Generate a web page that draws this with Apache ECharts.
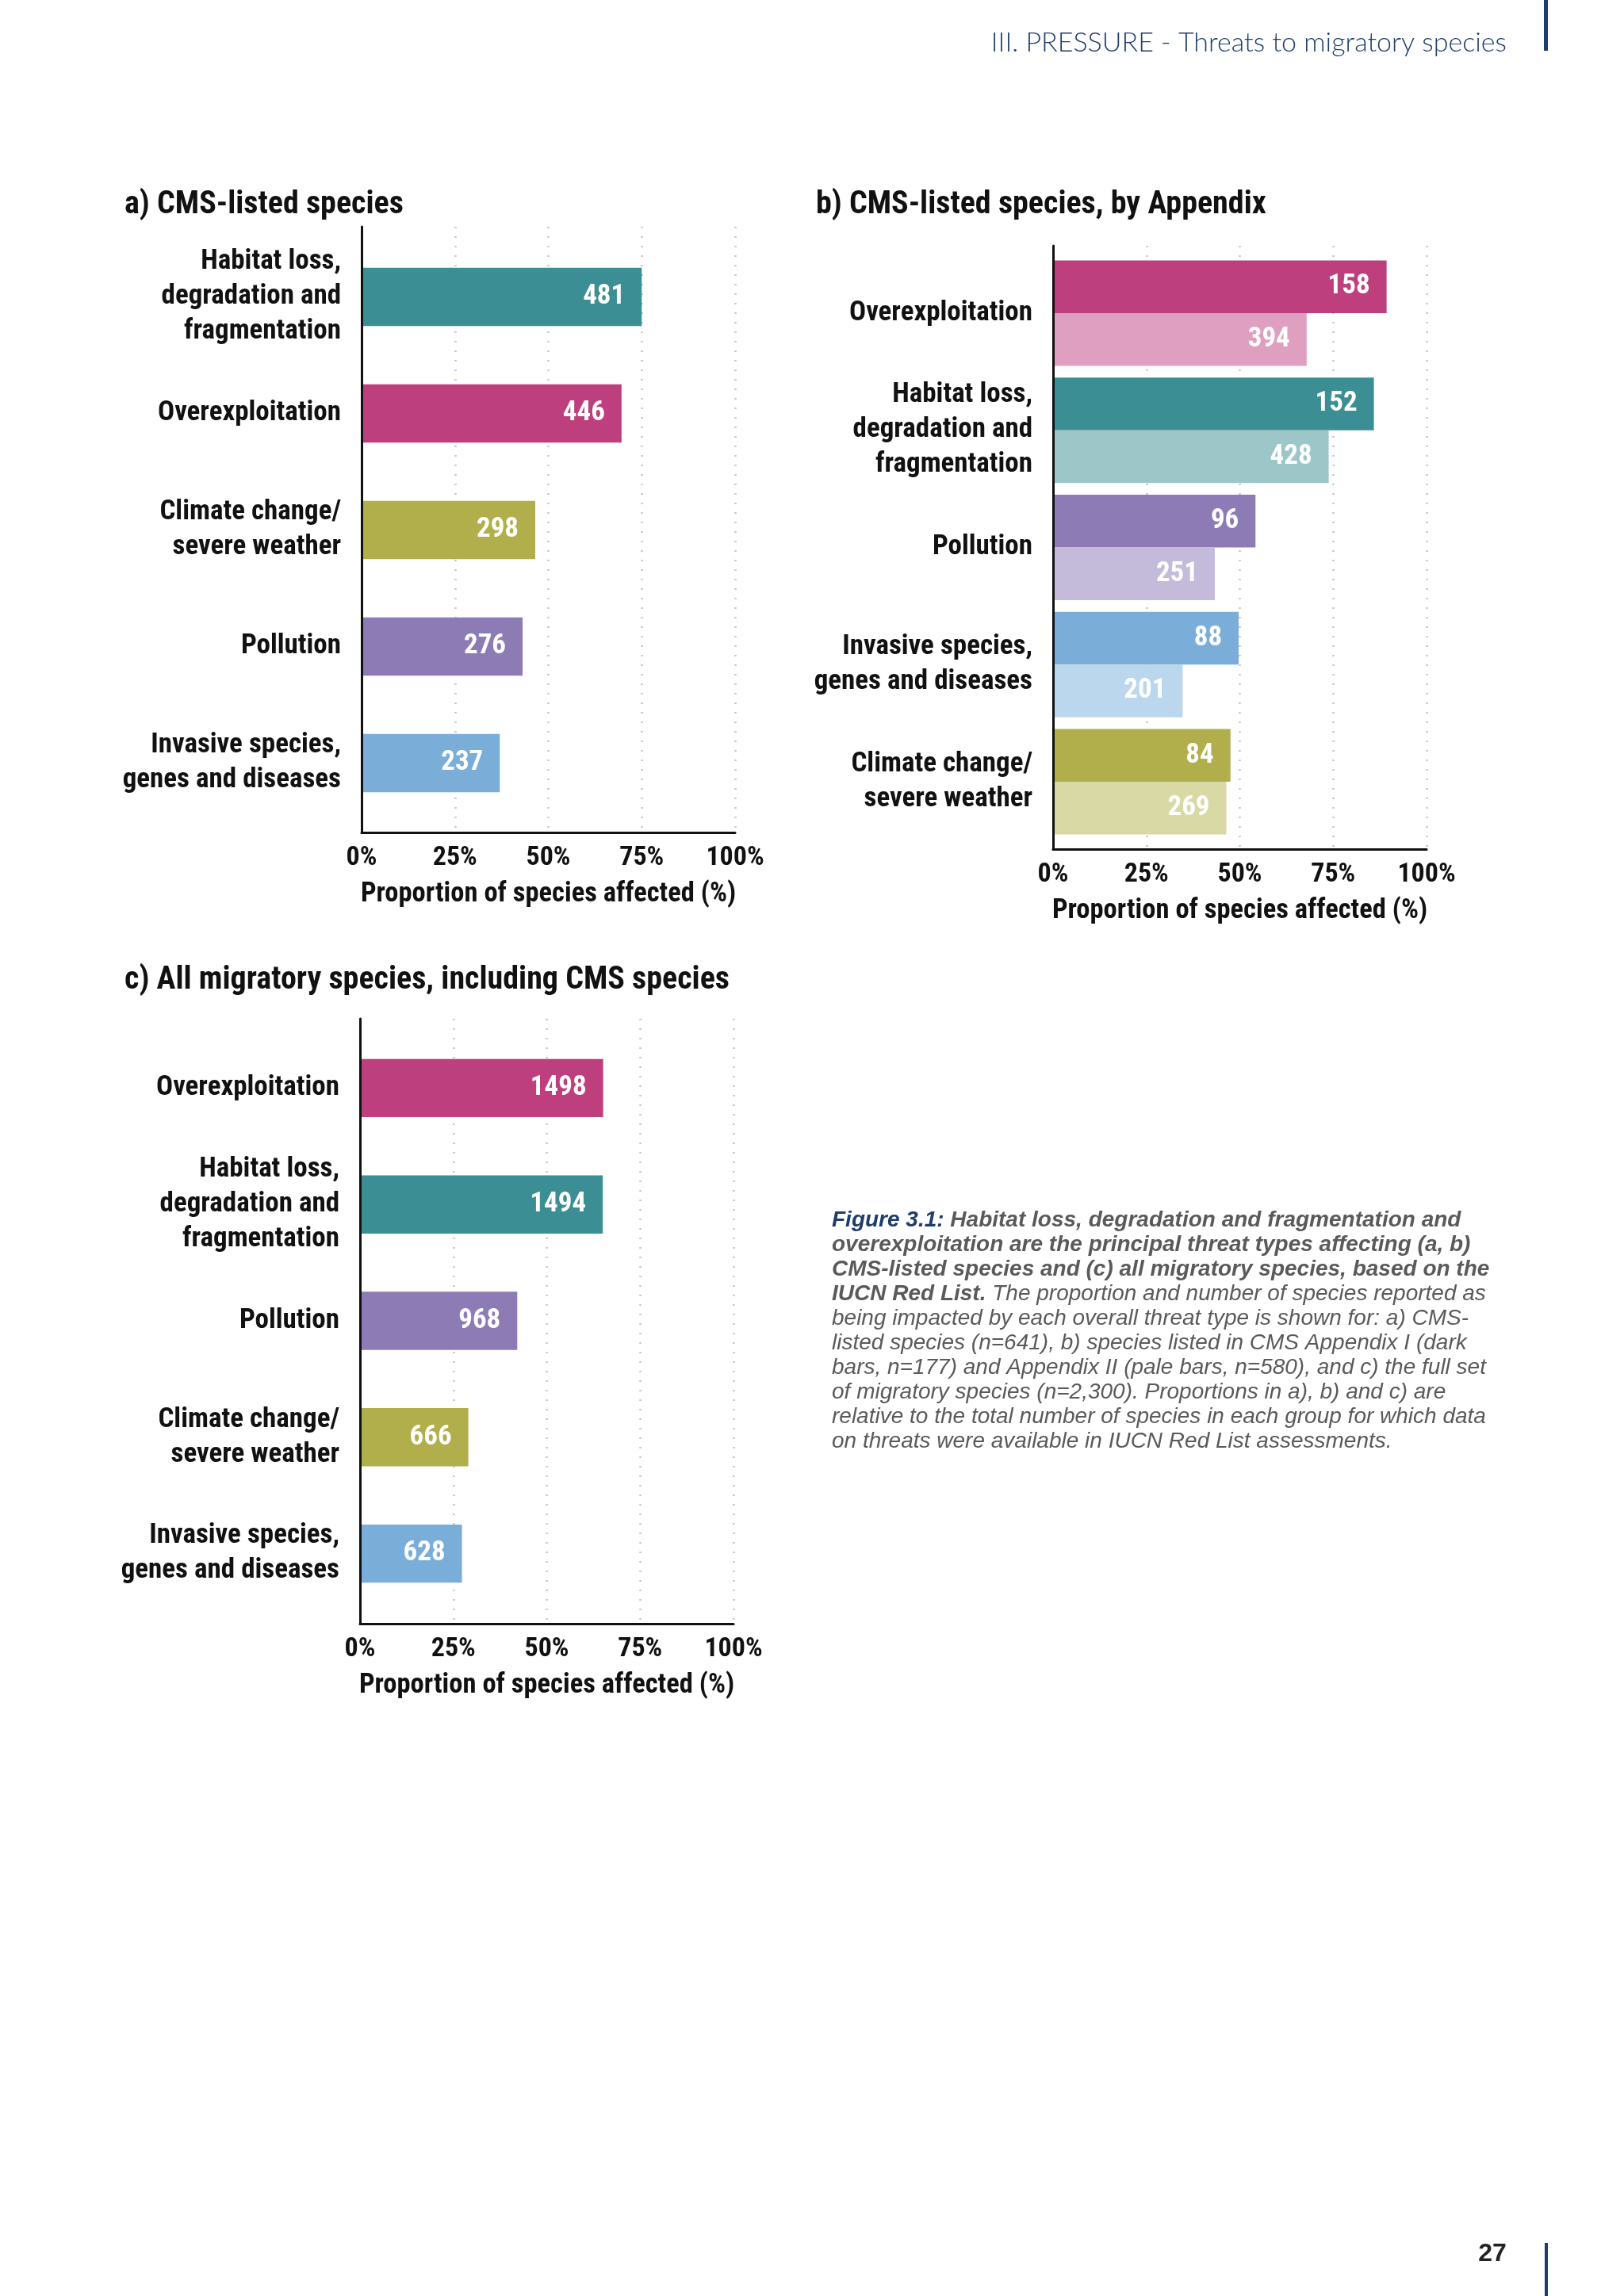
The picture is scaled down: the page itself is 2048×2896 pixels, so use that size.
<!DOCTYPE html>
<html>
<head>
<meta charset="utf-8">
<script src="https://cdn.jsdelivr.net/npm/echarts@6/dist/echarts.min.js"></script>
<style>
  html, body { margin: 0; padding: 0; background: #fff; }
  #main { width: 2048px; height: 2896px; }
</style>
</head>
<body>
<div id="main"></div>
<script>
// a) CMS-listed species
var catsA = ['Habitat loss,\ndegradation and\nfragmentation', 'Overexploitation', 'Climate change/\nsevere weather', 'Pollution', 'Invasive species,\ngenes and diseases'];
var pctA = [75.0, 69.6, 46.5, 43.1, 37.0];
var countA = [481, 446, 298, 276, 237];

// b) CMS-listed species, by Appendix (dark = Appendix I, pale = Appendix II)
var catsB = ['Overexploitation', 'Habitat loss,\ndegradation and\nfragmentation', 'Pollution', 'Invasive species,\ngenes and diseases', 'Climate change/\nsevere weather'];
var pctB1 = [89.3, 85.9, 54.2, 49.7, 47.5];
var countB1 = [158, 152, 96, 88, 84];
var pctB2 = [67.9, 73.8, 43.3, 34.7, 46.4];
var countB2 = [394, 428, 251, 201, 269];

// c) All migratory species, including CMS species
var catsC = ['Overexploitation', 'Habitat loss,\ndegradation and\nfragmentation', 'Pollution', 'Climate change/\nsevere weather', 'Invasive species,\ngenes and diseases'];
var pctC = [65.1, 65.0, 42.1, 29.0, 27.3];
var countC = [1498, 1494, 968, 666, 628];

var xTicks = [0, 25, 50, 75, 100];

var dark = { Habitat: '#3b8e93', Overexploitation: '#bd3f7e', Climate: '#b1af4b', Pollution: '#8d7bb6', Invasive: '#7aaed9' };
var pale = { Habitat: '#9cc6c7', Overexploitation: '#de9fc1', Climate: '#d9d9a5', Pollution: '#c4bbdb', Invasive: '#bbd7ed' };
function key(c) { return c.split(/[ ,\/\n]/)[0]; }

// condensed bold, like the original chart labels
var F = "'Roboto Condensed', Roboto, 'Liberation Sans', sans-serif";
var W = 'bold condensed';
var INK = '#111';

var grid = [], xAxis = [], yAxis = [], series = [];

// one panel = a frame grid (axis lines, ticks, dotted lines) + a bar grid
function panel(left, frameTop, frameBottom, barTop, barBottom, cats) {
  var g = grid.length;
  grid.push({ left: left, top: frameTop, width: 471, height: frameBottom - frameTop });
  grid.push({ left: left, top: barTop, width: 471, height: barBottom - barTop });
  xAxis.push({
    gridIndex: g, type: 'value',
    min: xTicks[0], max: xTicks[xTicks.length - 1], interval: xTicks[1] - xTicks[0],
    axisLine: { show: true, onZero: false, lineStyle: { color: INK, width: 3 } },
    axisTick: { show: false },
    axisLabel: { margin: 15, formatter: '{value}%', color: INK, fontSize: 34, fontWeight: W, fontFamily: F },
    splitLine: { show: true, lineStyle: { color: '#c6c6c6', width: 2.5, type: [2, 10] } },
    name: 'Proportion of species affected (%)', nameLocation: 'middle', nameGap: 61,
    nameTextStyle: { color: INK, fontSize: 34.5, fontWeight: W, fontFamily: F }
  });
  yAxis.push({
    gridIndex: g, type: 'value', min: 0, max: 1, z: 5,
    axisLine: { show: true, onZero: false, lineStyle: { color: INK, width: 3 } },
    axisTick: { show: false }, axisLabel: { show: false }, splitLine: { show: false }
  });
  xAxis.push({ gridIndex: g + 1, type: 'value', min: 0, max: 100, show: false });
  yAxis.push({
    gridIndex: g + 1, type: 'category', inverse: true, data: cats,
    axisLine: { show: false }, axisTick: { show: false },
    axisLabel: { interval: 0, margin: 26, color: INK, fontSize: 35, fontWeight: W, lineHeight: 44, fontFamily: F }
  });
  return g + 1;
}

function bars(idx, cats, vals, counts, colours, extra) {
  var s = {
    type: 'bar', xAxisIndex: idx, yAxisIndex: idx, silent: true,
    data: vals.map(function (v, i) { return { value: v, itemStyle: { color: colours[key(cats[i])] } }; }),
    label: {
      show: true, position: 'insideRight', distance: 21,
      formatter: function (p) { return counts[p.dataIndex]; },
      color: '#fff', fontSize: 35, fontWeight: W, fontFamily: F, textBorderWidth: 0
    }
  };
  for (var k in extra) s[k] = extra[k];
  series.push(s);
}

var ia = panel(456, 286, 1050, 301, 1036, catsA);
bars(ia, catsA, pctA, countA, dark, { barWidth: '50%' });

var ib = panel(1328, 310, 1071, 321, 1060, catsB);
bars(ib, catsB, pctB1, countB1, dark, { barGap: '0%', barCategoryGap: '10%' });
bars(ib, catsB, pctB2, countB2, pale, { barGap: '0%', barCategoryGap: '10%' });

var ic = panel(454, 1285, 2048, 1299, 2033, catsC);
bars(ic, catsC, pctC, countC, dark, { barWidth: '50%' });

function txt(x, y, text, font, fill, align) {
  return { type: 'text', silent: true, style: {
    x: x, y: y, text: text, font: font, fill: fill,
    align: align || 'left', textAlign: align || 'left', verticalAlign: 'middle', textVerticalAlign: 'middle'
  } };
}

var titleFont = W + ' 40px ' + F;
var capB = "italic bold 28px 'Liberation Sans', Arial, sans-serif";
var capR = "italic 28px 'Liberation Sans', Arial, sans-serif";
var GREY = '#5a5a5a', NAVY = '#1f3d6b';

var graphic = [
  txt(1900, 54, 'III. PRESSURE - Threats to migratory species', "300 34px Lato, 'Open Sans', sans-serif", NAVY, 'right'),
  { type: 'rect', silent: true, shape: { x: 1947, y: 0, width: 5, height: 64 }, style: { fill: NAVY } },
  { type: 'rect', silent: true, shape: { x: 1948, y: 2829, width: 4, height: 67 }, style: { fill: NAVY } },
  txt(1882, 2843, '27', "bold 32px 'Liberation Sans', Arial, sans-serif", '#222', 'center'),
  txt(157, 259, 'a) CMS-listed species', titleFont, INK),
  txt(1029, 259, 'b) CMS-listed species, by Appendix', titleFont, INK),
  txt(157, 1237, 'c) All migratory species, including CMS species', titleFont, INK)
];

var capLines = [
  [['n', 'Figure 3.1:'], ['b', ' Habitat loss, degradation and fragmentation and']],
  [['b', 'overexploitation are the principal threat types affecting (a, b)']],
  [['b', 'CMS-listed species and (c) all migratory species, based on the']],
  [['b', 'IUCN Red List.'], ['r', ' The proportion and number of species reported as']],
  [['r', 'being impacted by each overall threat type is shown for: a) CMS-']],
  [['r', 'listed species (n=641), b) species listed in CMS Appendix I (dark']],
  [['r', 'bars, n=177) and Appendix II (pale bars, n=580), and c) the full set']],
  [['r', 'of migratory species (n=2,300). Proportions in a), b) and c) are']],
  [['r', 'relative to the total number of species in each group for which data']],
  [['r', 'on threats were available in IUCN Red List assessments.']]
];
capLines.forEach(function (line, i) {
  graphic.push({ type: 'text', silent: true, style: {
    x: 1049, y: 1539 + i * 31, align: 'left', textAlign: 'left', verticalAlign: 'middle', textVerticalAlign: 'middle',
    text: line.map(function (seg) { return '{' + seg[0] + '|' + seg[1] + '}'; }).join(''),
    rich: {
      n: { font: capB, fill: NAVY, color: NAVY },
      b: { font: capB, fill: GREY, color: GREY },
      r: { font: capR, fill: GREY, color: GREY }
    }
  } });
});

var chart = echarts.init(document.getElementById('main'));
chart.setOption({
  backgroundColor: '#fff',
  animation: false,
  grid: grid,
  xAxis: xAxis,
  yAxis: yAxis,
  series: series,
  graphic: graphic
});
</script>
</body>
</html>
